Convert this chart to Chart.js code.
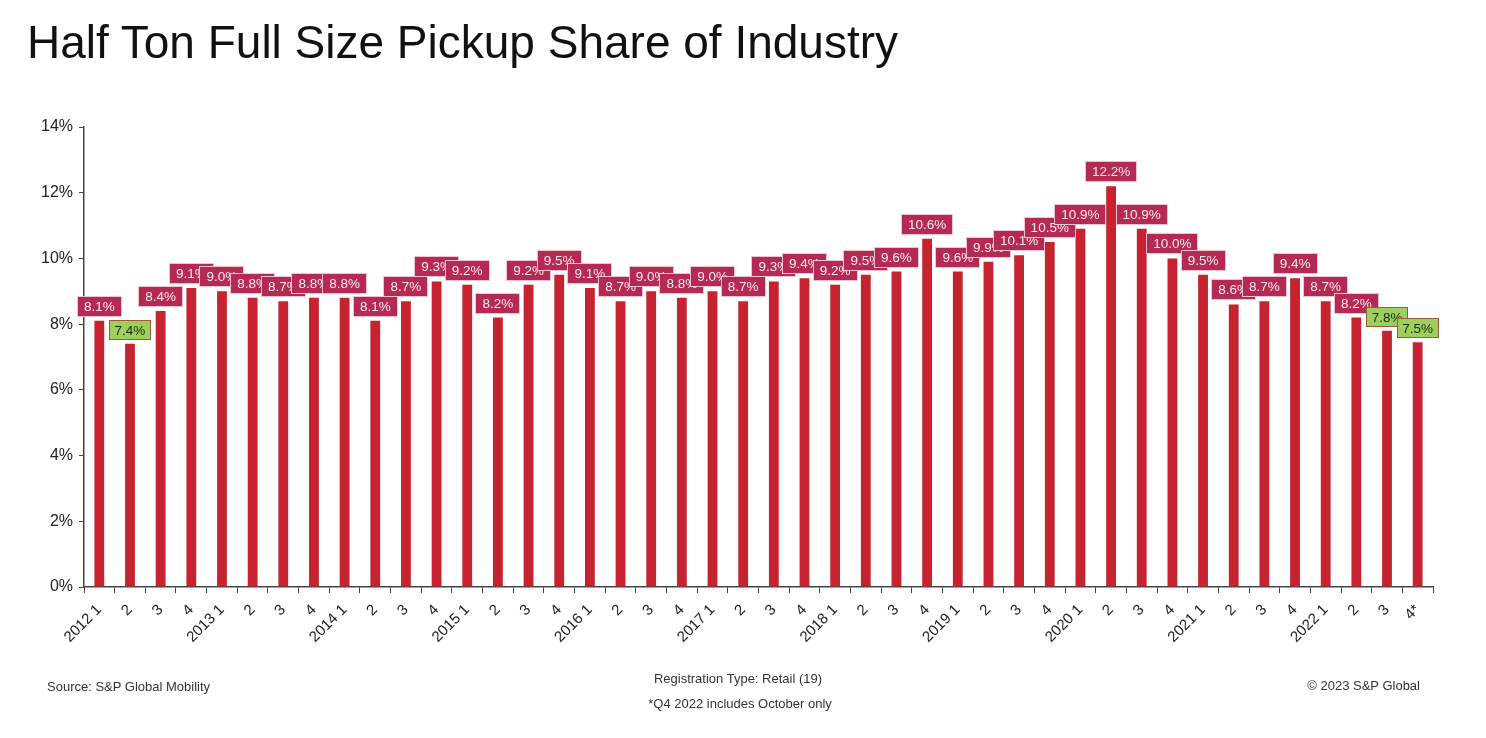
<!DOCTYPE html>
<html>
<head>
<meta charset="utf-8">
<script src="https://cdn.jsdelivr.net/npm/chart.js@4"></script>
<style>
    body { margin: 0; background: #fff; font-family: "Liberation Sans", Arial, sans-serif; }
    #wrap { position: absolute; left: 0; top: 0; width: 1486px; height: 738px; }
    .txt { position: absolute; color: #333; font-size: 13px; line-height: 15px; white-space: nowrap; }
    #title { position: absolute; left: 27px; top: 19px; font-size: 46px; line-height: 46px; color: #111; white-space: nowrap; }
</style>
</head>
<body>
<div id="wrap"><canvas id="shareChart"></canvas></div>
<div id="title">Half Ton Full Size Pickup Share of Industry</div>
<div class="txt" style="left:47px; top:679px;">Source: S&amp;P Global Mobility</div>
<div class="txt" style="left:738px; top:671px; transform:translateX(-50%);">Registration Type: Retail (19)</div>
<div class="txt" style="left:740px; top:696px; transform:translateX(-50%);">*Q4 2022 includes October only</div>
<div class="txt" style="right:66px; top:678px;">© 2023 S&amp;P Global</div>
<script>
// --- Data ---
const quarters = [
    "2012 1", "2", "3", "4",
    "2013 1", "2", "3", "4",
    "2014 1", "2", "3", "4",
    "2015 1", "2", "3", "4",
    "2016 1", "2", "3", "4",
    "2017 1", "2", "3", "4",
    "2018 1", "2", "3", "4",
    "2019 1", "2", "3", "4",
    "2020 1", "2", "3", "4",
    "2021 1", "2", "3", "4",
    "2022 1", "2", "3", "4*",
];
const share = [
    8.1, 7.4, 8.4, 9.1,
    9.0, 8.8, 8.7, 8.8,
    8.8, 8.1, 8.7, 9.3,
    9.2, 8.2, 9.2, 9.5,
    9.1, 8.7, 9.0, 8.8,
    9.0, 8.7, 9.3, 9.4,
    9.2, 9.5, 9.6, 10.6,
    9.6, 9.9, 10.1, 10.5,
    10.9, 12.2, 10.9, 10.0,
    9.5, 8.6, 8.7, 9.4,
    8.7, 8.2, 7.8, 7.45,
];
const shareLabels = [
    "8.1%", "7.4%", "8.4%", "9.1%",
    "9.0%", "8.8%", "8.7%", "8.8%",
    "8.8%", "8.1%", "8.7%", "9.3%",
    "9.2%", "8.2%", "9.2%", "9.5%",
    "9.1%", "8.7%", "9.0%", "8.8%",
    "9.0%", "8.7%", "9.3%", "9.4%",
    "9.2%", "9.5%", "9.6%", "10.6%",
    "9.6%", "9.9%", "10.1%", "10.5%",
    "10.9%", "12.2%", "10.9%", "10.0%",
    "9.5%", "8.6%", "8.7%", "9.4%",
    "8.7%", "8.2%", "7.8%", "7.5%",
];
// quarters flagged in green (lowest readings)
const lowFlags = [1, 42, 43];

// --- Value boxes above bars ---
const valueBoxes = {
    id: "valueBoxes",
    afterDatasetsDraw(chart) {
        const c = chart.ctx;
        const bars = chart.getDatasetMeta(0).data;
        c.save();
        c.font = "13.5px 'Liberation Sans', Arial, sans-serif";
        c.textAlign = "center";
        c.textBaseline = "middle";
        bars.forEach((bar, i) => {
            const txt = shareLabels[i];
            const low = lowFlags.includes(i);
            const w = Math.round(c.measureText(txt).width + (low ? 11 : 14));
            const h = low ? 20 : 21;
            const x = Math.round(bar.x - w / 2);
            const y = Math.round(bar.y - 4 - h);
            c.fillStyle = low ? "#9dcf5c" : "#b42a52";
            c.fillRect(x, y, w, h);
            c.lineWidth = 1;
            c.strokeStyle = low ? "#a0583a" : "#f1c2d2";
            c.strokeRect(x + 0.5, y + 0.5, w - 1, h - 1);
            c.fillStyle = low ? "#1d2a10" : "#fbe9f0";
            c.fillText(txt, bar.x, y + h / 2 + 1);
        });
        c.restore();
    },
};

// --- Chart setup ---
const ctx = document.getElementById("shareChart").getContext("2d");
new Chart(ctx, {
    type: "bar",
    data: {
        labels: quarters,
        datasets: [{
            data: share,
            backgroundColor: "#c6222f",
            borderWidth: 0,
            categoryPercentage: 1,
            barPercentage: 0.32,
        }],
    },
    options: {
        responsive: true,
        maintainAspectRatio: false,
        animation: false,
        layout: { padding: { left: 24, right: 53, top: 127, bottom: 71 } },
        scales: {
            x: {
                grid: { offset: true, drawOnChartArea: false, drawTicks: true, tickLength: 6, color: "#444" },
                border: { color: "#444", width: 1.5 },
                ticks: {
                    color: "#222",
                    font: { family: "'Liberation Sans', Arial", size: 15 },
                    minRotation: 45, maxRotation: 45,
                    autoSkip: false,
                    padding: 8,
                },
                afterFit: s => { s.height = 80; },
            },
            y: {
                min: 0, max: 14,
                grid: { drawOnChartArea: false, drawTicks: true, tickLength: 5, color: "#444" },
                border: { color: "#444", width: 1.5 },
                ticks: {
                    stepSize: 2,
                    color: "#222",
                    padding: 6,
                    font: { family: "'Liberation Sans', Arial", size: 16 },
                    callback: v => v + "%",
                },
                afterFit: s => { s.width = 60; },
            },
        },
        plugins: {
            legend: { display: false },
            tooltip: { enabled: false },
        },
    },
    plugins: [valueBoxes],
});
</script>
</body>
</html>
